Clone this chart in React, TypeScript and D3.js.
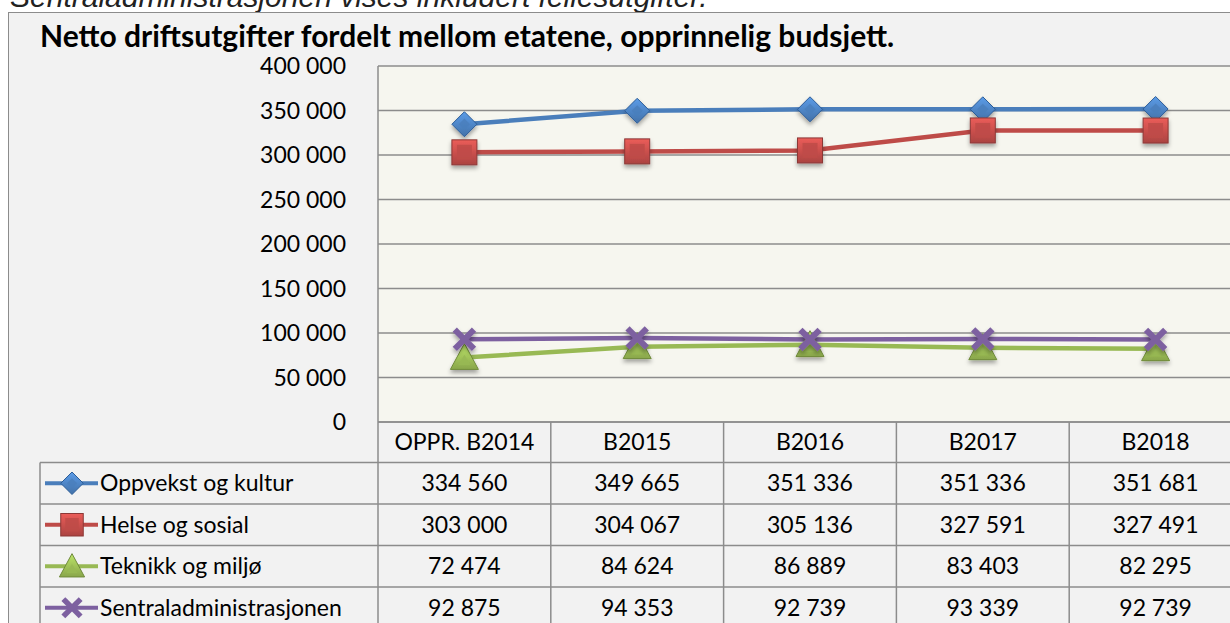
import React from 'react';
import * as d3 from 'd3';

const categories = ['OPPR. B2014', 'B2015', 'B2016', 'B2017', 'B2018'];
const seriesNames = ['Oppvekst og kultur', 'Helse og sosial', 'Teknikk og miljø', 'Sentraladministrasjonen'];
const oppvekst = [334560, 349665, 351336, 351336, 351681];
const helse = [303000, 304067, 305136, 327591, 327491];
const teknikk = [72474, 84624, 86889, 83403, 82295];
const sentral = [92875, 94353, 92739, 93339, 92739];
const yTicks = [0, 50000, 100000, 150000, 200000, 250000, 300000, 350000, 400000];

const colors = ['#4a7ebb', '#be4b48', '#98b954', '#7d60a0'];
const darks = ['#2c5d98', '#8c3836', '#6f8a3a', '#5c4378'];
const shapes = ['diamond', 'square', 'triangle', 'cross'];
const values = [oppvekst, helse, teknikk, sentral];

const FONT = 'Lato, "Noto Sans", sans-serif';
const nb = d3.formatLocale({ decimal: ',', thousands: '\u00a0', grouping: [3], currency: ['', ''] });
const fmt = nb.format(',');

const Marker = ({ shape, i, x, y, s = 1 }) => {
  const c = colors[i];
  const d = darks[i];
  const g = `url(#grad${i})`;
  if (shape === 'diamond') {
    const r = 12.5 * s;
    return (
      <g transform={`translate(${x},${y})`}>
        <path d={`M0,${-r}L${r},0L0,${r}L${-r},0Z`} fill={g} stroke={d} strokeWidth={1} />
        <path d={`M0,${-r * 0.45}L${r * 0.45},0L0,${r * 0.45}L${-r * 0.45},0Z`} fill={c} opacity={0.8} />
      </g>
    );
  }
  if (shape === 'square') {
    const r = 12.5 * s;
    return (
      <g transform={`translate(${x},${y})`}>
        <rect x={-r} y={-r} width={2 * r} height={2 * r} fill={g} stroke={d} strokeWidth={1} />
        <rect x={-r * 0.6} y={-r * 0.6} width={1.2 * r} height={1.2 * r} fill={c} opacity={0.85} />
      </g>
    );
  }
  if (shape === 'triangle') {
    const r = 14 * s;
    return (
      <g transform={`translate(${x},${y})`}>
        <path d={`M0,${-r}L${r},${r * 0.85}L${-r},${r * 0.85}Z`} fill={g} stroke={d} strokeWidth={1} />
        <path d={`M0,${-r * 0.2}L${r * 0.45},${r * 0.55}L${-r * 0.45},${r * 0.55}Z`} fill={c} opacity={0.85} />
      </g>
    );
  }
  const r = 10 * s;
  return (
    <g transform={`translate(${x},${y})`} stroke={c} strokeWidth={6 * s} strokeLinecap="square">
      <line x1={-r * 0.75} y1={-r * 0.75} x2={r * 0.75} y2={r * 0.75} />
      <line x1={-r * 0.75} y1={r * 0.75} x2={r * 0.75} y2={-r * 0.75} />
    </g>
  );
};

export default function App() {
  const width = 1230;
  const height = 623;
  const plotLeft = 378;
  const colW = 172.8;
  const plotTop = 66;
  const plotBottom = 422;
  const rowH = 41.5;
  const legendLeft = 40;

  const x = d3.scaleBand().domain(categories).range([plotLeft, plotLeft + colW * categories.length]);
  const y = d3.scaleLinear().domain([0, 400000]).range([plotBottom, plotTop]);
  const line = d3.line<number>()
    .x((_, j) => x(categories[j]) + x.bandwidth() / 2)
    .y(v => y(v));

  const headerBottom = plotBottom + 40.5;
  const rowY = (r: number) => headerBottom + r * rowH;

  return (
    <svg width={width} height={height} style={{ position: 'absolute', left: 0, top: 0 }} fontFamily={FONT}>
      <defs>
        {colors.map((c, i) => (
          <linearGradient key={i} id={`grad${i}`} x1="0" y1="0" x2="0" y2="1">
            <stop offset="0" stopColor={d3.color(c).brighter(0.6).formatHex()} />
            <stop offset="1" stopColor={d3.color(c).darker(0.3).formatHex()} />
          </linearGradient>
        ))}
        <filter id="shadow" x="-50%" y="-50%" width="200%" height="200%">
          <feDropShadow dx="0" dy="3" stdDeviation="2" floodColor="#000" floodOpacity="0.35" />
        </filter>
      </defs>
      <rect width={width} height={height} fill="#ffffff" />
      <text x={10} y={7} fontFamily="Arial, 'Liberation Sans', sans-serif" fontStyle="italic" fontSize={30} fill="#222">
        Sentraladministrasjonen vises inkludert fellesutgifter.
      </text>
      <rect x={8.5} y={12.5} width={width + 20} height={height + 20} fill="#f2f2f2" stroke="#8c8c8c" strokeWidth={1} />
      <text x={40} y={47} fontSize={30} fontWeight="bold" fill="#000">
        Netto driftsutgifter fordelt mellom etatene, opprinnelig budsjett.
      </text>

      {/* plot area */}
      <rect x={plotLeft} y={plotTop} width={width - plotLeft + 10} height={plotBottom - plotTop} fill="#f6f6ef" />
      {yTicks.map(t => (
        <g key={t}>
          <line x1={plotLeft} x2={width + 10} y1={y(t)} y2={y(t)} stroke="#8c8c8c" strokeWidth={1.5} />
          <text x={346} y={y(t)} dy="0.35em" textAnchor="end" fontSize={23} fill="#000">
            {fmt(t)}
          </text>
        </g>
      ))}
      <line x1={plotLeft} x2={plotLeft} y1={plotTop} y2={height} stroke="#8c8c8c" strokeWidth={1.5} />

      {values.map((vals, i) => (
        <path key={i} d={line(vals)} fill="none" stroke={colors[i]} strokeWidth={4.5} />
      ))}
      {values.map((vals, i) => (
        <g key={i} filter="url(#shadow)">
          {vals.map((v, j) => (
            <Marker key={j} shape={shapes[i]} i={i} x={x(categories[j]) + x.bandwidth() / 2} y={y(v)} />
          ))}
        </g>
      ))}

      {/* data table */}
      {categories.map((c, j) => (
        <g key={c}>
          <line x1={x(c) + colW} x2={x(c) + colW} y1={plotBottom} y2={height} stroke="#8c8c8c" strokeWidth={1.5} />
          <text x={x(c) + colW / 2} y={(plotBottom + headerBottom) / 2} dy="0.35em" textAnchor="middle" fontSize={23}>
            {c}
          </text>
        </g>
      ))}
      {seriesNames.map((name, r) => (
        <g key={name}>
          <line x1={legendLeft} x2={width + 10} y1={rowY(r)} y2={rowY(r)} stroke="#8c8c8c" strokeWidth={1.5} />
          <line x1={45} x2={98} y1={rowY(r) + rowH / 2} y2={rowY(r) + rowH / 2} stroke={colors[r]} strokeWidth={4} />
          <Marker shape={shapes[r]} i={r} x={72} y={rowY(r) + rowH / 2} s={0.9} />
          <text x={100} y={rowY(r) + rowH / 2} dy="0.35em" fontSize={23}>
            {name}
          </text>
          {values[r].map((v, j) => (
            <text key={j} x={x(categories[j]) + colW / 2} y={rowY(r) + rowH / 2} dy="0.35em" textAnchor="middle" fontSize={23}>
              {fmt(v)}
            </text>
          ))}
        </g>
      ))}
      <line x1={legendLeft} x2={legendLeft} y1={headerBottom} y2={height} stroke="#8c8c8c" strokeWidth={1.5} />
      <line x1={plotLeft} x2={width + 10} y1={plotBottom} y2={plotBottom} stroke="#8c8c8c" strokeWidth={1.5} />
    </svg>
  );
}
